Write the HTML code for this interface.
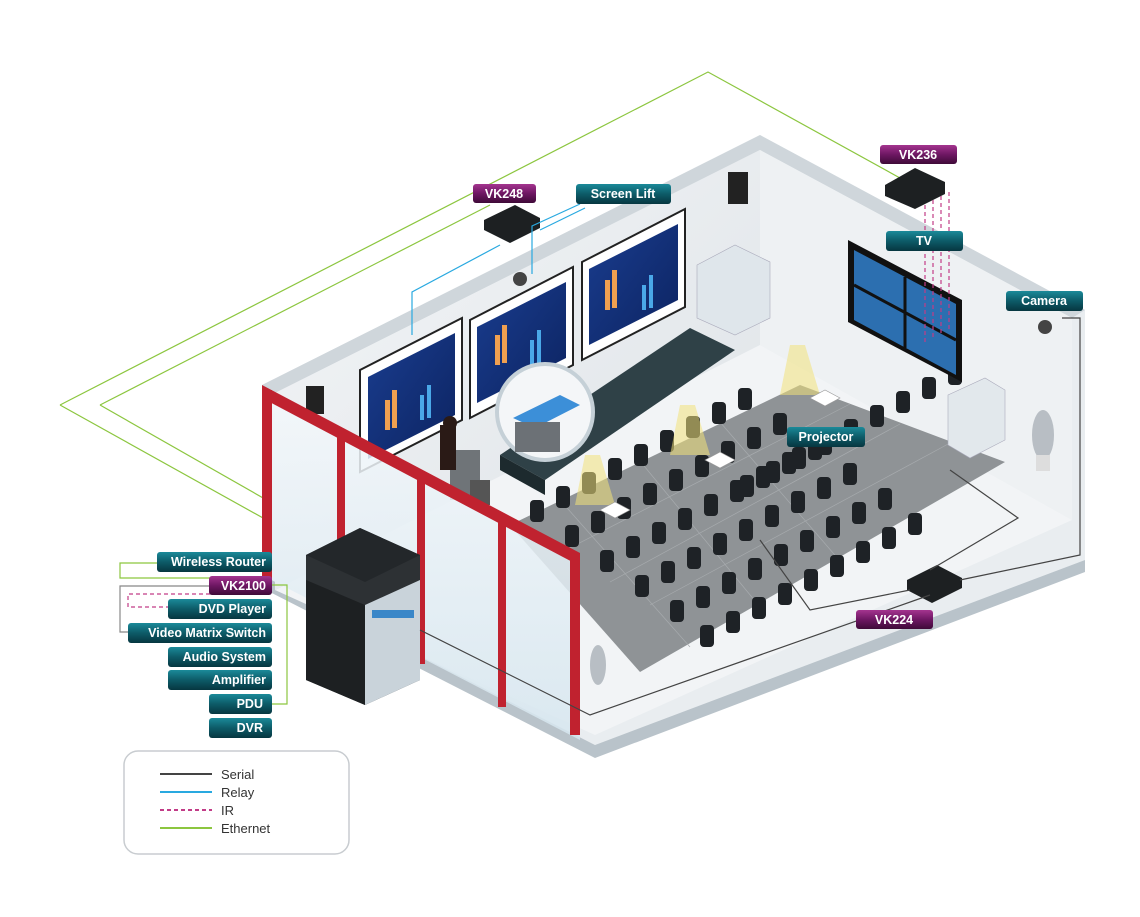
<!DOCTYPE html>
<html><head><meta charset="utf-8"><style>
html,body{margin:0;padding:0;background:#fff}
svg{display:block}
text{font-family:"Liberation Sans",sans-serif;font-weight:bold}
</style></head><body>
<svg width="1140" height="917" viewBox="0 0 1140 917" xmlns="http://www.w3.org/2000/svg">
<defs>
<linearGradient id="tl" x1="0" y1="0" x2="0" y2="1"><stop offset="0" stop-color="#1b8a9a"/><stop offset=".5" stop-color="#0d5b68"/><stop offset="1" stop-color="#063640"/></linearGradient>
<linearGradient id="pl" x1="0" y1="0" x2="0" y2="1"><stop offset="0" stop-color="#a4348f"/><stop offset=".5" stop-color="#6e1763"/><stop offset="1" stop-color="#3f0a38"/></linearGradient>
<linearGradient id="wall" x1="0" y1="0" x2="1" y2="1"><stop offset="0" stop-color="#f4f6f8"/><stop offset="1" stop-color="#dde2e6"/></linearGradient>
<linearGradient id="scr" x1="0" y1="0" x2="1" y2="1"><stop offset="0" stop-color="#1a3d8f"/><stop offset="1" stop-color="#0c2360"/></linearGradient>
<linearGradient id="glass" x1="0" y1="0" x2="0" y2="1"><stop offset="0" stop-color="#f4f8fb"/><stop offset="1" stop-color="#d6e6ef"/></linearGradient>
<g id="row" fill="#1e2226">
<rect x="0" y="0" width="14" height="22" rx="4"/><rect x="26" y="-14" width="14" height="22" rx="4"/><rect x="52" y="-28" width="14" height="22" rx="4"/><rect x="78" y="-42" width="14" height="22" rx="4"/><rect x="104" y="-56" width="14" height="22" rx="4"/><rect x="130" y="-70" width="14" height="22" rx="4"/><rect x="156" y="-84" width="14" height="22" rx="4"/><rect x="182" y="-98" width="14" height="22" rx="4"/><rect x="208" y="-112" width="14" height="22" rx="4"/>
</g>
</defs>

<!-- network lines (behind) -->
<g fill="none" stroke-width="1.2">
<polyline stroke="#8cc63f" points="60,405 708,72 900,178"/>
<polyline stroke="#8cc63f" points="100,405 490,205"/>
<polyline stroke="#8cc63f" points="60,405 590,700 960,590"/>
<polyline stroke="#8cc63f" points="100,405 600,690"/>
</g>

<!-- slab -->
<polygon points="262,385 760,135 1085,310 1085,560 595,745 262,575" fill="#e9edf0"/>
<polygon points="262,575 595,745 1085,560 1085,572 595,758 262,588" fill="#b9c3ca"/>
<polygon points="262,385 760,135 760,150 275,393" fill="#cfd6db"/>
<polygon points="275,393 760,150 760,345 275,590" fill="url(#wall)"/>
<polygon points="760,135 1085,310 1072,318 760,150" fill="#cfd6db"/>
<polygon points="760,150 1072,318 1072,520 760,345" fill="#eef1f3"/>
<polygon points="275,590 760,345 1072,520 595,735" fill="#f2f4f6"/>
<!-- carpet -->
<polygon points="510,525 800,385 1005,462 640,672" fill="#8f9396"/>
<g stroke="#a7abae" stroke-width="0.7">
<line x1="560" y1="553" x2="850" y2="404"/><line x1="610" y1="582" x2="900" y2="424"/><line x1="650" y1="605" x2="950" y2="443"/>
<line x1="560" y1="500" x2="690" y2="647"/><line x1="640" y1="461" x2="760" y2="607"/><line x1="720" y1="422" x2="840" y2="561"/>
</g>

<!-- chairs -->
<use href="#row" transform="translate(530,500)"/>
<use href="#row" transform="translate(565,525)"/>
<use href="#row" transform="translate(600,550)"/>
<use href="#row" transform="translate(635,575)"/>
<use href="#row" transform="translate(670,600)"/>
<use href="#row" transform="translate(700,625)"/>
<use href="#row" transform="translate(740,475)"/>

<!-- projector beams -->
<g fill="#f3e27a" opacity=".55">
<polygon points="585,455 600,455 615,505 575,505"/>
<polygon points="680,405 695,405 710,455 670,455"/>
<polygon points="790,345 805,345 820,395 780,395"/>
</g>
<g fill="#fff" stroke="#999" stroke-width=".6">
<polygon points="600,510 615,502 630,510 615,518"/><polygon points="705,460 720,452 735,460 720,468"/><polygon points="810,398 825,390 840,398 825,406"/>
</g>

<!-- stage -->
<polygon points="500,455 690,328 735,350 545,480" fill="#2f4147"/>
<polygon points="500,455 545,480 545,495 500,470" fill="#1d2a2e"/>

<!-- screens -->
<g>
<polygon points="360,370 462,318 462,420 360,472" fill="#fff" stroke="#222" stroke-width="2"/>
<polygon points="368,377 455,333 455,415 368,459" fill="url(#scr)"/>
<polygon points="470,320 573,267 573,365 470,418" fill="#fff" stroke="#222" stroke-width="2"/>
<polygon points="477,327 566,282 566,358 477,403" fill="url(#scr)"/>
<polygon points="582,262 685,209 685,307 582,360" fill="#fff" stroke="#222" stroke-width="2"/>
<polygon points="589,269 678,224 678,300 589,345" fill="url(#scr)"/>
<g fill="#f0a050"><rect x="385" y="400" width="5" height="30"/><rect x="392" y="390" width="5" height="38"/><rect x="495" y="335" width="5" height="30"/><rect x="502" y="325" width="5" height="38"/><rect x="605" y="280" width="5" height="30"/><rect x="612" y="270" width="5" height="38"/></g>
<g fill="#4aa8e8"><rect x="420" y="395" width="4" height="25"/><rect x="427" y="385" width="4" height="33"/><rect x="530" y="340" width="4" height="25"/><rect x="537" y="330" width="4" height="33"/><rect x="642" y="285" width="4" height="25"/><rect x="649" y="275" width="4" height="33"/></g>
</g>

<!-- TV wall -->
<polygon points="848,240 962,300 962,382 848,322" fill="#111"/>
<polygon points="854,250 956,304 956,375 854,320" fill="#2c6fb0"/>
<line x1="905" y1="277" x2="905" y2="348" stroke="#111" stroke-width="3"/>
<line x1="854" y1="285" x2="956" y2="340" stroke="#111" stroke-width="3"/>

<!-- cabinets -->
<polygon points="697,265 735,245 770,262 770,318 735,335 697,318" fill="#dfe6eb" stroke="#aab" stroke-width=".6"/>
<polygon points="948,395 985,378 1005,390 1005,440 970,458 948,445" fill="#e2e8ec" stroke="#aab" stroke-width=".6"/>
<rect x="728" y="172" width="20" height="32" fill="#222"/><rect x="306" y="386" width="18" height="28" fill="#222"/>
<ellipse cx="1043" cy="435" rx="11" ry="25" fill="#b8bec4"/><rect x="1036" y="455" width="14" height="16" fill="#ddd"/>
<ellipse cx="598" cy="665" rx="8" ry="20" fill="#b8bec4"/>
<circle cx="520" cy="279" r="7" fill="#444"/><circle cx="1045" cy="327" r="7" fill="#444"/>

<!-- podium & person -->
<rect x="450" y="450" width="30" height="50" fill="#6f7478"/>
<rect x="440" y="425" width="16" height="45" fill="#2a1a16"/><circle cx="450" cy="423" r="7" fill="#2a1a16"/>
<rect x="470" y="480" width="20" height="25" fill="#555"/>

<!-- inset circle -->
<circle cx="545" cy="412" r="48" fill="#f4f6f8" stroke="#c5d0d7" stroke-width="4"/>
<polygon points="513,418 560,395 580,405 535,428" fill="#3c8fd8"/>
<rect x="515" y="422" width="45" height="30" fill="#6c7176"/>

<!-- red glass wall -->
<polygon points="262,390 580,558 580,740 262,575" fill="url(#glass)" opacity=".85"/>
<g fill="#c0222f">
<polygon points="262,385 580,553 580,566 262,398"/>
<rect x="262" y="390" width="10" height="190"/>
<rect x="337" y="432" width="8" height="190"/>
<rect x="417" y="474" width="8" height="190"/>
<rect x="498" y="517" width="8" height="190"/>
<rect x="570" y="555" width="10" height="180"/>
</g>

<!-- rack -->
<polygon points="306,555 360,528 420,555 420,680 365,705 306,680" fill="#2d3134"/>
<polygon points="306,580 365,605 365,705 306,680" fill="#1d2022"/>
<polygon points="365,605 420,580 420,680 365,705" fill="#c9d3da"/>
<polygon points="306,555 360,528 420,555 365,582" fill="#23272a"/>
<rect x="372" y="610" width="42" height="8" fill="#3a87c8"/>

<!-- devices -->
<g fill="#1d2022">
<polygon points="484,220 515,205 540,218 540,228 510,243 484,230"/>
<polygon points="885,185 915,168 945,182 945,194 915,209 885,196"/>
<polygon points="907,580 937,565 962,578 962,588 932,603 907,590"/>
</g>

<!-- serial / relay / IR lines -->
<g fill="none" stroke-width="1.2">
<polyline stroke="#29a9e0" points="412,335 412,292 500,245"/>
<polyline stroke="#29a9e0" points="532,274 532,226 580,204"/>
<polyline stroke="#29a9e0" points="540,230 585,208"/>
<polyline stroke="#444" points="1062,318 1080,318 1080,555 960,580"/>
<polyline stroke="#444" points="420,630 590,715 930,595"/>
<polyline stroke="#444" points="760,540 810,610 910,590"/>
<polyline stroke="#444" points="950,470 1018,518 930,570"/>
<polyline stroke="#c23c87" stroke-dasharray="4,3" points="925,205 925,345"/>
<polyline stroke="#c23c87" stroke-dasharray="4,3" points="933,200 933,340"/>
<polyline stroke="#c23c87" stroke-dasharray="4,3" points="941,196 941,335"/>
<polyline stroke="#c23c87" stroke-dasharray="4,3" points="949,192 949,330"/>
<polyline stroke="#8cc63f" points="158,563 120,563 120,578 210,578"/>
<polyline stroke="#8cc63f" points="272,585 287,585 287,704 272,704"/>
<polyline stroke="#888" points="210,586 120,586 120,632 128,632"/>
<polyline stroke="#c23c87" stroke-dasharray="4,3" points="210,594 128,594 128,607 168,607"/>
</g>

<!-- labels -->
<g font-size="12.5" fill="#fff" text-anchor="end">
<rect x="157" y="552" width="115" height="20" rx="3" fill="url(#tl)"/><text x="266" y="566">Wireless Router</text>
<rect x="209" y="576" width="63" height="19" rx="3" fill="url(#pl)"/><text x="266" y="590">VK2100</text>
<rect x="168" y="599" width="104" height="20" rx="3" fill="url(#tl)"/><text x="266" y="613">DVD Player</text>
<rect x="128" y="623" width="144" height="20" rx="3" fill="url(#tl)"/><text x="266" y="637">Video Matrix Switch</text>
<rect x="168" y="647" width="104" height="20" rx="3" fill="url(#tl)"/><text x="266" y="661">Audio System</text>
<rect x="168" y="670" width="104" height="20" rx="3" fill="url(#tl)"/><text x="266" y="684">Amplifier</text>
<rect x="209" y="694" width="63" height="20" rx="3" fill="url(#tl)"/><text x="263" y="708">PDU</text>
<rect x="209" y="718" width="63" height="20" rx="3" fill="url(#tl)"/><text x="263" y="732">DVR</text>
</g>
<g font-size="12.5" fill="#fff" text-anchor="middle">
<rect x="473" y="184" width="63" height="19" rx="3" fill="url(#pl)"/><text x="504" y="198">VK248</text>
<rect x="576" y="184" width="95" height="20" rx="3" fill="url(#tl)"/><text x="623" y="198">Screen Lift</text>
<rect x="880" y="145" width="77" height="19" rx="3" fill="url(#pl)"/><text x="918" y="159">VK236</text>
<rect x="886" y="231" width="77" height="20" rx="3" fill="url(#tl)"/><text x="924" y="245">TV</text>
<rect x="1006" y="291" width="77" height="20" rx="3" fill="url(#tl)"/><text x="1044" y="305">Camera</text>
<rect x="787" y="427" width="78" height="20" rx="3" fill="url(#tl)"/><text x="826" y="441">Projector</text>
<rect x="856" y="610" width="77" height="19" rx="3" fill="url(#pl)"/><text x="894" y="624">VK224</text>
</g>

<!-- legend -->
<rect x="124" y="751" width="225" height="103" rx="14" fill="#fff" stroke="#c8ccd0" stroke-width="1.5"/>
<g stroke-width="2">
<line x1="160" y1="774" x2="212" y2="774" stroke="#444"/>
<line x1="160" y1="792" x2="212" y2="792" stroke="#29a9e0"/>
<line x1="160" y1="810" x2="212" y2="810" stroke="#c23c87" stroke-dasharray="4,3"/>
<line x1="160" y1="828" x2="212" y2="828" stroke="#8cc63f"/>
</g>
<g font-size="13" fill="#333">
<text x="221" y="779" style="font-weight:normal">Serial</text>
<text x="221" y="797" style="font-weight:normal">Relay</text>
<text x="221" y="815" style="font-weight:normal">IR</text>
<text x="221" y="833" style="font-weight:normal">Ethernet</text>
</g>
</svg>
</body></html>
